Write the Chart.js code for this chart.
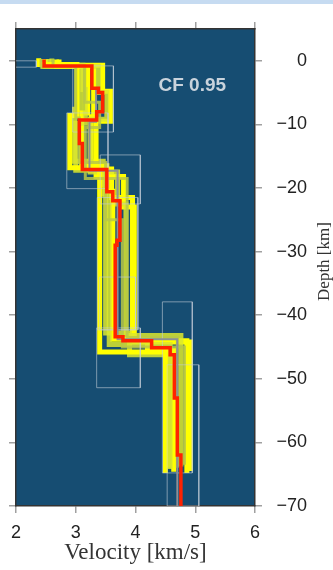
<!DOCTYPE html>
<html>
<head>
<meta charset="utf-8">
<script src="https://cdn.jsdelivr.net/npm/chart.js@4.4.1/dist/chart.umd.min.js"></script>
<style>
  html, body { margin: 0; padding: 0; background: #fff; }
  #wrap { width: 333px; height: 570px; position: relative; }
</style>
</head>
<body>
<div id="wrap"><canvas id="profile"></canvas></div>
<script>
// tick values
const velocityTicks = [2, 3, 4, 5, 6];
const depthTicks = [0, -10, -20, -30, -40, -50, -60, -70];

// best model (red): layer interfaces [km] and layer velocities [km/s]
const bestDepths = [0.2, -0.8, -4.3, -5.0, -8.0, -9.3, -13.0, -17.1, -20.6, -22.0, -28.2, -29.0, -43.4, -44.0, -45.1, -46.2, -53.0, -62.0, -70];
const bestVel = [2.47, 3.27, 3.38, 3.45, 3.35, 3.06, 3.11, 3.52, 3.62, 3.74, 3.69, 3.66, 3.79, 4.27, 4.58, 4.65, 4.70, 4.76];

// median model (grey)
const medianDepths = [-0.8, -4.3, -9.6, -17.3, -43.8, -70];
const medianVel = [3.27, 3.34, 3.23, 3.70, 4.70];

// accepted models (yellow)
const ens1Depths = [0.4, -0.6, -8.6, -16.8, -45.8, -64.8];
const ens1Vel = [2.38, 3.02, 2.90, 3.40, 4.50];
const ens2Depths = [0.3, -0.7, -4.5, -9.8, -17.2, -21.0, -44.6, -64.2];
const ens2Vel = [2.55, 3.12, 3.16, 3.00, 3.44, 3.56, 4.58];
const ens3Depths = [0.2, -0.8, -8.2, -16.5, -20.5, -43.8, -45.5, -64.6];
const ens3Vel = [2.68, 3.20, 3.10, 3.52, 3.62, 4.20, 4.64];
const ens4Depths = [0.3, -0.9, -5.0, -9.2, -17.5, -22.5, -43.2, -63.8];
const ens4Vel = [2.45, 3.38, 3.52, 3.24, 3.70, 3.84, 4.76];
const ens5Depths = [0.2, -0.7, -4.8, -9.5, -18.2, -23.0, -44.2, -64.5];
const ens5Vel = [2.72, 3.45, 3.58, 3.34, 3.80, 3.98, 4.92];
const ens6Depths = [0.35, -0.8, -7.6, -15.8, -19.5, -42.8, -46.2, -64.0];
const ens6Vel = [2.60, 3.08, 2.98, 3.46, 3.50, 3.90, 4.55];
const ens7Depths = [0.25, -0.8, -8.8, -17.0, -21.5, -44.0, -64.8];
const ens7Vel = [2.50, 3.30, 3.26, 3.60, 3.95, 4.86];
const ens8Depths = [0.3, -0.8, -6.5, -10.5, -18.5, -43.5, -64.0];
const ens8Vel = [2.42, 3.15, 3.40, 3.16, 3.86, 4.70];
const ens9Depths = [0.2, -0.9, -9.0, -16.0, -25.0, -45.0, -63.5];
const ens9Vel = [2.62, 3.00, 3.06, 3.50, 3.78, 4.82];

// parameter search boxes (light grey outlines)
const boxVmin = [1.90, 2.95, 2.85, 3.41, 3.36, 3.40, 3.35, 4.45, 4.53];
const boxVmax = [2.34, 3.63, 3.54, 4.08, 4.04, 4.00, 4.08, 4.95, 5.06];
const boxTop = [0.0, -0.8, -8.2, -14.8, -21.5, -34.0, -42.0, -37.9, -47.8];
const boxBottom = [-1.0, -11.2, -20.1, -22.5, -42.3, -42.3, -51.4, -64.8, -70];

function stepLine(depths, vel) {
  const pts = [];
  vel.forEach((v, i) => {
    pts.push({x: v, y: depths[i]});
    pts.push({x: v, y: depths[i + 1]});
  });
  return pts;
}

function boxLine(i) {
  return [
    {x: boxVmin[i], y: boxTop[i]}, {x: boxVmax[i], y: boxTop[i]},
    {x: boxVmax[i], y: boxBottom[i]}, {x: boxVmin[i], y: boxBottom[i]},
    {x: boxVmin[i], y: boxTop[i]}
  ];
}

const line = (data, color, width) => ({
  data: data, showLine: true, borderColor: color, borderWidth: width,
  pointRadius: 0, tension: 0, clip: 0
});

const ensemble = [
  [ens1Depths, ens1Vel], [ens2Depths, ens2Vel], [ens3Depths, ens3Vel], [ens4Depths, ens4Vel],
  [ens5Depths, ens5Vel], [ens6Depths, ens6Vel], [ens7Depths, ens7Vel]
];
const ensembleThin = [[ens8Depths, ens8Vel], [ens9Depths, ens9Vel]];

const datasets = [];
datasets.push(line(stepLine(bestDepths, bestVel), '#ff2200', 3.5));
datasets.push(line(stepLine(medianDepths, medianVel), '#8c9096', 2));
boxVmin.forEach((v, i) => datasets.push(line(boxLine(i), 'rgba(195,205,215,0.6)', 1)));
ensembleThin.forEach(m => datasets.push(line(stepLine(m[0], m[1]), 'rgba(185,200,70,0.85)', 3)));
ensemble.forEach((m, i) => {
  datasets.push(line(stepLine(m[0], m[1]), i % 2 ? 'rgba(220,232,45,0.85)' : '#ffff00', 5));
});

const BG = '#164d72';
const AXIS = '#333';
const TICK = '#a0a0a0';

const decor = {
  id: 'decor',
  beforeDraw(chart) {
    const {ctx, chartArea: a} = chart;
    ctx.save();
    ctx.fillStyle = '#fff';
    ctx.fillRect(0, 0, chart.width, chart.height);
    ctx.fillStyle = '#c6dbf1';
    ctx.fillRect(0, 0, chart.width, 4);
    ctx.fillStyle = BG;
    ctx.fillRect(a.left, a.top, a.right - a.left, a.bottom - a.top);
    ctx.restore();
  },
  afterDraw(chart) {
    const {ctx, chartArea: a, scales} = chart;
    ctx.save();
    ctx.font = 'bold 19px "Liberation Sans"';
    ctx.fillStyle = '#c9d3dc';
    ctx.textAlign = 'center';
    ctx.textBaseline = 'middle';
    ctx.fillText('CF 0.95', scales.x.getPixelForValue(4.95), scales.y.getPixelForValue(-3.9));
    ctx.font = '17px "Liberation Serif"';
    ctx.fillStyle = '#333';
    ctx.translate(325, (a.top + a.bottom) / 2 - 6);
    ctx.rotate(-Math.PI / 2);
    ctx.fillText('Depth [km]', 0, 0);
    ctx.restore();
  }
};

const gridOpts = {drawOnChartArea: false, tickLength: 7, color: TICK, lineWidth: 1.5};
const borderOpts = {color: AXIS, width: 1.5};
const tickFont = {family: 'Liberation Sans', size: 18};
const minus = v => (v < 0 ? '\u2212' + Math.abs(v) : String(v));

new Chart(document.getElementById('profile'), {
  type: 'scatter',
  data: {datasets: datasets},
  options: {
    responsive: true,
    maintainAspectRatio: false,
    animation: false,
    layout: {padding: {left: 0, top: 0, bottom: 0, right: 26}},
    plugins: {legend: {display: false}, tooltip: {enabled: false}},
    scales: {
      x: {
        type: 'linear', position: 'bottom', min: 2, max: 6, z: 1,
        afterBuildTicks: s => { s.ticks = velocityTicks.map(v => ({value: v})); },
        ticks: {color: '#222', font: tickFont, padding: 9},
        grid: gridOpts, border: borderOpts,
        title: {display: true, text: 'Velocity [km/s]', color: '#333',
          font: {family: 'Liberation Serif', size: 23}, padding: {top: 0, bottom: 3}},
        afterFit: s => { s.height = 64; }
      },
      x2: {
        type: 'linear', position: 'top', min: 2, max: 6, z: 1,
        afterBuildTicks: s => { s.ticks = velocityTicks.map(v => ({value: v})); },
        ticks: {display: false},
        grid: gridOpts, border: borderOpts,
        afterFit: s => { s.height = 29; }
      },
      y: {
        type: 'linear', position: 'right', min: -70, max: 5, z: 1,
        afterBuildTicks: s => { s.ticks = depthTicks.map(v => ({value: v})); },
        ticks: {color: '#222', font: tickFont, padding: 10, crossAlign: 'far', callback: minus},
        grid: gridOpts, border: borderOpts,
        afterFit: s => { s.width = 52; }
      },
      y2: {
        type: 'linear', position: 'left', min: -70, max: 5, z: 1,
        afterBuildTicks: s => { s.ticks = depthTicks.map(v => ({value: v})); },
        ticks: {display: false},
        grid: gridOpts, border: borderOpts,
        afterFit: s => { s.width = 16; }
      }
    }
  },
  plugins: [decor]
});
</script>
</body>
</html>
